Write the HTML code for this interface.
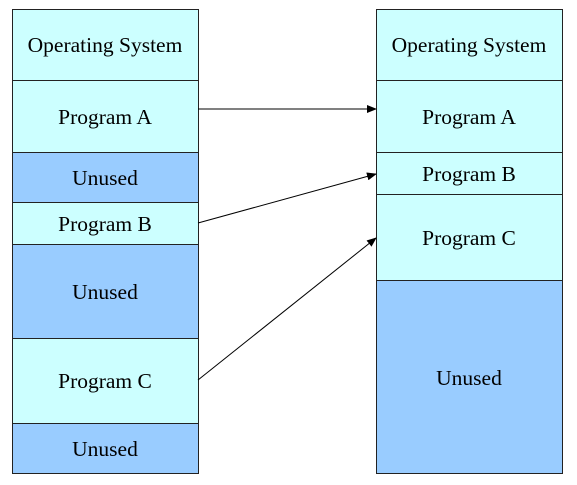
<!DOCTYPE html>
<html><head><meta charset="utf-8"><style>
html,body{margin:0;padding:0;background:#fff;width:577px;height:485px;overflow:hidden}
text{font-family:"Liberation Serif",serif;font-size:21.5px;fill:#000}
</style></head><body>
<svg width="577" height="485" viewBox="0 0 577 485" xmlns="http://www.w3.org/2000/svg">
<defs><marker id="a" markerWidth="10" markerHeight="8" refX="9" refY="4" orient="auto" markerUnits="userSpaceOnUse"><path d="M0,0 L10,4 L0,8 z" fill="#000"/></marker></defs>
<g stroke="#222" stroke-width="1">
<rect x="12.5" y="9.5" width="186" height="71" fill="#ccffff"/>
<rect x="12.5" y="80.5" width="186" height="72" fill="#ccffff"/>
<rect x="12.5" y="152.5" width="186" height="50" fill="#99ccff"/>
<rect x="12.5" y="202.5" width="186" height="42" fill="#ccffff"/>
<rect x="12.5" y="244.5" width="186" height="94" fill="#99ccff"/>
<rect x="12.5" y="338.5" width="186" height="85" fill="#ccffff"/>
<rect x="12.5" y="423.5" width="186" height="50" fill="#99ccff"/>
<rect x="376.5" y="9.5" width="186" height="71" fill="#ccffff"/>
<rect x="376.5" y="80.5" width="186" height="72" fill="#ccffff"/>
<rect x="376.5" y="152.5" width="186" height="42" fill="#ccffff"/>
<rect x="376.5" y="194.5" width="186" height="86" fill="#ccffff"/>
<rect x="376.5" y="280.5" width="186" height="193" fill="#99ccff"/>
</g>
<g stroke="#000" stroke-width="1" marker-end="url(#a)">
<line x1="198" y1="109" x2="376" y2="109"/>
<line x1="198" y1="223" x2="376" y2="174"/>
<line x1="198" y1="380" x2="376" y2="238"/>
</g>
<g text-anchor="middle">
<text x="105" y="52">Operating System</text>
<text x="105" y="124">Program A</text>
<text x="105" y="185">Unused</text>
<text x="105" y="231">Program B</text>
<text x="105" y="299">Unused</text>
<text x="105" y="388">Program C</text>
<text x="105" y="456">Unused</text>
<text x="469" y="52">Operating System</text>
<text x="469" y="124">Program A</text>
<text x="469" y="181">Program B</text>
<text x="469" y="245">Program C</text>
<text x="469" y="385">Unused</text>
</g>
</svg>
</body></html>
